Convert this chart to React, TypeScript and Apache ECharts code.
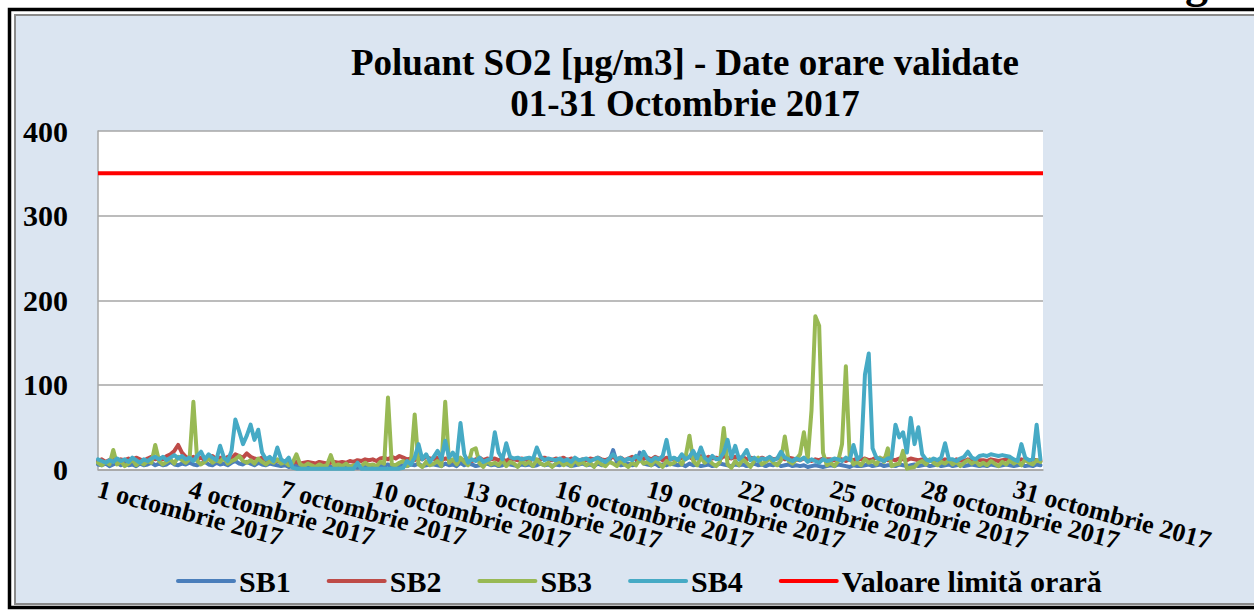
import React, { useEffect, useRef } from "react";
import * as echarts from "echarts";

// Hourly data sampled every 3 hours, 1-31 October 2017 (8 values per day)
const STEP_HOURS = 3;
const LAST_HOUR = 743;
const LABEL_STEP = 72; // one label every 3 days

const TICK_LABELS = [
  "1 octombrie 2017", "4 octombrie 2017", "7 octombrie 2017", "10 octombrie 2017",
  "13 octombrie 2017", "16 octombrie 2017", "19 octombrie 2017", "22 octombrie 2017",
  "25 octombrie 2017", "28 octombrie 2017", "31 octombrie 2017",
];

const SB1 = [
  6, 5, 7, 4, 6, 8, 5, 7,
  5, 6, 4, 7, 5, 6, 8, 5,
  7, 5, 6, 9, 6, 5, 7, 6,
  8, 6, 5, 7, 9, 6, 5, 8,
  6, 7, 5, 8, 10, 7, 6, 9,
  7, 5, 8, 6, 5, 7, 6, 5,
  4, 5, 3, 4, 5, 3, 4, 3,
  3, 4, 2, 3, 4, 3, 2, 3,
  3, 2, 4, 3, 2, 3, 4, 3,
  4, 3, 5, 4, 6, 3, 4, 5,
  5, 4, 6, 5, 7, 4, 5, 6,
  6, 5, 4, 7, 5, 6, 4, 8,
  5, 7, 6, 4, 5, 6, 7, 5,
  6, 4, 5, 7, 6, 5, 4, 6,
  5, 6, 4, 5, 7, 5, 6, 4,
  6, 5, 7, 6, 4, 5, 6, 7,
  5, 6, 4, 7, 5, 6, 10, 23,
  8, 5, 6, 7, 5, 6, 20, 7,
  6, 5, 7, 4, 6, 5, 7, 6,
  5, 6, 4, 7, 5, 6, 4, 5,
  6, 4, 5, 7, 6, 5, 4, 6,
  5, 6, 4, 5, 7, 5, 6, 4,
  6, 5, 7, 4, 5, 6, 4, 5,
  4, 5, 3, 4, 5, 4, 3, 4,
  5, 4, 6, 5, 4, 3, 5, 4,
  4, 5, 6, 4, 5, 6, 4, 5,
  5, 4, 6, 5, 4, 5, 6, 4,
  5, 6, 4, 5, 6, 4, 5, 6,
  4, 5, 6, 4, 5, 6, 5, 4,
  5, 4, 6, 5, 4, 5, 6, 5,
  4, 5, 6, 4, 5, 4, 6, 5,
];

const SB2 = [
  10, 12, 9, 11, 13, 10, 12, 11,
  13, 11, 14, 12, 10, 13, 15, 12,
  14, 12, 16, 18, 22, 29, 20, 15,
  13, 15, 12, 14, 11, 13, 16, 12,
  14, 12, 15, 13, 18, 16, 14, 19,
  15, 13, 12, 14, 11, 13, 12, 10,
  11, 9, 10, 8, 9, 7, 8, 9,
  8, 7, 9, 8, 7, 8, 9, 8,
  9, 8, 10, 9, 11, 10, 12, 11,
  12, 10, 13, 14, 12, 15, 13, 16,
  14, 12, 13, 11, 14, 12, 15, 13,
  12, 14, 11, 13, 12, 10, 13, 12,
  11, 13, 10, 12, 14, 11, 13, 12,
  13, 11, 12, 10, 13, 12, 11, 13,
  12, 10, 13, 11, 12, 14, 12, 11,
  13, 12, 14, 11, 13, 12, 10, 12,
  11, 13, 12, 14, 12, 11, 13, 15,
  12, 14, 11, 13, 15, 12, 14, 13,
  14, 12, 15, 13, 11, 14, 12, 13,
  12, 14, 13, 15, 12, 14, 16, 13,
  15, 13, 14, 12, 16, 14, 13, 15,
  13, 15, 12, 14, 13, 11, 14, 12,
  14, 12, 13, 15, 12, 14, 13, 12,
  11, 13, 12, 10, 12, 11, 13, 12,
  12, 11, 13, 12, 10, 12, 11, 13,
  12, 13, 11, 12, 14, 12, 13, 11,
  12, 11, 13, 12, 11, 13, 12, 11,
  12, 11, 10, 12, 11, 10, 12, 11,
  10, 12, 11, 10, 12, 11, 10, 11,
  11, 10, 12, 11, 10, 11, 12, 10,
  11, 10, 12, 11, 10, 12, 11, 10,
];

const SB3 = [
  8, 5, 9, 6, 23, 6, 10, 4,
  7, 12, 5, 9, 6, 10, 8, 29,
  10, 6, 9, 12, 7, 15, 11, 8,
  12, 80, 10, 6, 9, 13, 8, 11,
  9, 14, 7, 10, 12, 16, 10, 8,
  11, 7, 13, 9, 6, 10, 8, 12,
  7, 9, 5, 8, 18, 6, 4, 7,
  5, 3, 6, 4, 5, 17, 4, 6,
  4, 7, 3, 5, 6, 4, 8, 5,
  6, 4, 9, 7, 85, 6, 5, 8,
  10, 4, 7, 65, 6, 3, 9, 5,
  7, 10, 4, 80, 8, 12, 6, 14,
  9, 5, 23, 25, 7, 3, 10, 6,
  8, 5, 11, 4, 9, 7, 3, 10,
  6, 9, 4, 12, 7, 5, 8, 3,
  7, 10, 5, 8, 4, 11, 6, 9,
  5, 8, 3, 10, 6, 4, 9, 7,
  4, 10, 6, 3, 8, 5, 12, 7,
  9, 5, 11, 7, 3, 10, 6, 8,
  12, 6, 15, 40, 10, 5, 14, 8,
  11, 7, 4, 9, 49, 6, 2, 10,
  5, 12, 8, 3, 10, 14, 6, 9,
  13, 8, 5, 11, 39, 10, 7, 12,
  18, 44, 12, 70, 181, 170, 20, 5,
  8, 4, 10, 30, 122, 15, 6, 9,
  5, 12, 8, 10, 6, 14, 9, 25,
  4, 6, 7, 22, 1, 2, 3, 8,
  10, 6, 12, 8, 5, 9, 7, 11,
  6, 9, 4, 8, 11, 7, 10, 5,
  8, 5, 10, 7, 4, 9, 6, 11,
  7, 10, 5, 12, 8, 6, 11, 9,
];

const SB4 = [
  12, 10, 8, 11, 9, 13, 10, 12,
  9, 14, 11, 8, 12, 10, 13, 15,
  12, 15, 11, 14, 17, 13, 16, 12,
  14, 10, 16, 21, 12, 18, 14, 11,
  28, 14, 10, 22, 59, 45, 30, 40,
  53, 35, 47, 20, 12, 15, 10, 26,
  12, 9, 14, 2, 1, 1, 1, 1,
  1, 1, 1, 1, 1, 1, 1, 1,
  1, 1, 1, 1, 8, 1, 1, 1,
  1, 1, 1, 1, 1, 1, 1, 1,
  2, 10, 6, 14, 30, 12, 18, 9,
  15, 22, 12, 34, 14, 20, 11, 55,
  18, 8, 12, 10, 14, 9, 11, 13,
  44, 20, 12, 31, 15, 13, 14, 12,
  13, 14, 12, 26, 15, 11, 13, 12,
  11, 13, 10, 12, 9, 14, 11, 12,
  13, 10, 12, 14, 11, 9, 13, 18,
  12, 14, 10, 13, 11, 16, 12, 21,
  13, 10, 14, 12, 16, 35, 12, 14,
  11, 18, 12, 15, 22, 13, 26, 14,
  10, 16, 12, 13, 20, 35, 14, 28,
  12, 16, 23, 11, 14, 10, 13, 12,
  15, 11, 13, 21, 14, 12, 10, 13,
  11, 14, 9, 12, 10, 8, 12, 10,
  11, 13, 12, 10, 14, 11, 29, 12,
  16, 112, 137, 25, 14, 12, 10, 13,
  14, 53, 38, 44, 20, 61, 30, 50,
  18, 12, 10, 13, 11, 14, 31, 12,
  12, 10, 13, 15, 21, 14, 12, 16,
  17, 16, 18, 17, 16, 17, 16, 15,
  12, 10, 30, 14, 11, 12, 53, 12,
];

const LIMIT_VALUE = 350;

const SERIES_NAMES = ["SB1", "SB2", "SB3", "SB4", "Valoare limită orară"];
const SERIES_COLORS = ["#4A7EBB", "#BE4B48", "#98B954", "#46AAC5", "#FF0000"];

const FONT = "Liberation Serif";

const toPoints = (arr: number[]) => arr.map((v, i) => [i * STEP_HOURS, v]);

export default function App() {
  const ref = useRef<HTMLDivElement>(null);

  useEffect(() => {
    if (!ref.current) return;
    const chart = echarts.init(ref.current, undefined, { renderer: "svg" });
    const dataSets = [SB1, SB2, SB3, SB4];
    const lineSeries: any[] = dataSets.map((arr, i) => ({
      name: SERIES_NAMES[i],
      type: "line",
      xAxisIndex: 0,
      data: toPoints(arr),
      symbol: "none",
      showSymbol: false,
      lineStyle: { width: 4, color: SERIES_COLORS[i], join: "round", cap: "round" },
      itemStyle: { color: SERIES_COLORS[i] },
      z: 2 + i,
    }));
    lineSeries.push({
      name: SERIES_NAMES[4],
      type: "line",
      xAxisIndex: 0,
      data: [[0, LIMIT_VALUE], [LAST_HOUR, LIMIT_VALUE]],
      symbol: "none",
      showSymbol: false,
      lineStyle: { width: 4, color: SERIES_COLORS[4] },
      itemStyle: { color: SERIES_COLORS[4] },
      z: 10,
    });

    // Two identical hour axes: one carries the even-numbered labels, the
    // other the odd-numbered ones, so ECharts never hides a crowded label.
    const makeXAxis = (parity: number, showLine: boolean) => ({
      type: "value",
      gridIndex: 0,
      position: "bottom",
      min: 0,
      max: LAST_HOUR,
      interval: LABEL_STEP,
      axisLine: { show: showLine, lineStyle: { color: "#A6A6A6", width: 1.5 } },
      axisTick: { show: false },
      splitLine: { show: false },
      axisLabel: {
        rotate: -15,
        margin: 19,
        showMinLabel: true,
        showMaxLabel: false,
        hideOverlap: false,
        fontFamily: FONT,
        fontWeight: "bold",
        fontSize: 26,
        color: "#000000",
        formatter: (v: number) => {
          const k = Math.round(v / LABEL_STEP);
          if (v % LABEL_STEP !== 0 || k % 2 !== parity) return "";
          return TICK_LABELS[k] ?? "";
        },
      },
    });

    chart.setOption({
      animation: false,
      backgroundColor: "#ffffff",
      graphic: [
        {
          type: "rect",
          z: -10,
          silent: true,
          shape: { x: 9.5, y: 9.5, width: 1260, height: 598 },
          style: { fill: "#ffffff", stroke: "#000000", lineWidth: 3.5 },
        },
        {
          type: "rect",
          z: -9,
          silent: true,
          shape: { x: 15, y: 15, width: 1260, height: 589 },
          style: { fill: "#DBE5F1", stroke: "#8a8a8a", lineWidth: 2 },
        },
        {
          type: "text",
          z: -8,
          silent: true,
          x: 1185,
          y: -42,
          style: {
            text: "g",
            font: `bold 46px ${FONT}`,
            fill: "#000000",
          },
        },
      ],
      title: {
        text: "Poluant SO2 [µg/m3] - Date orare validate\n01-31 Octombrie 2017",
        left: 685,
        top: 42,
        padding: 0,
        textAlign: "center",
        textStyle: {
          fontFamily: FONT,
          fontWeight: "bold",
          fontSize: 37,
          lineHeight: 41,
          color: "#000000",
        },
      },
      legend: {
        data: SERIES_NAMES,
        left: 176,
        top: 566,
        padding: 0,
        itemWidth: 56,
        itemHeight: 14,
        itemGap: 36,
        itemStyle: { opacity: 0 },
        textStyle: { fontFamily: FONT, fontWeight: "bold", fontSize: 30, color: "#000000" },
        lineStyle: { width: 4, cap: "round" },
      },
      grid: {
        left: 98,
        right: 211,
        top: 131,
        bottom: 142.5,
        show: true,
        backgroundColor: "#ffffff",
        borderWidth: 0,
        containLabel: false,
      },
      xAxis: [makeXAxis(0, true), makeXAxis(1, false)],
      yAxis: {
        type: "value",
        min: 0,
        max: 400,
        interval: 100,
        axisLine: { show: true, lineStyle: { color: "#A6A6A6", width: 1.5 } },
        axisTick: { show: false },
        splitLine: { show: true, lineStyle: { color: "#A6A6A6", width: 1.5 } },
        axisLabel: {
          margin: 30,
          fontFamily: FONT,
          fontWeight: "bold",
          fontSize: 30,
          color: "#000000",
        },
      },
      series: lineSeries,
    });

    return () => chart.dispose();
  }, []);

  return (
    <div
      ref={ref}
      style={{ position: "absolute", left: 0, top: 0, width: 1254, height: 612 }}
    />
  );
}
